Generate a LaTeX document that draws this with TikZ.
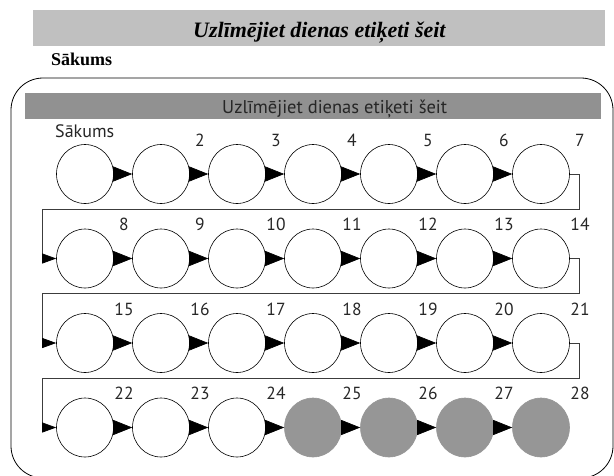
\documentclass[tikz,border=0pt]{standalone}
\usepackage{fontspec}
\setmainfont{Liberation Serif}
\newfontfamily\lblfont{PT Sans}
\usetikzlibrary{arrows.meta,shapes.geometric}
\definecolor{barlight}{RGB}{192,192,192}
\definecolor{bardark}{RGB}{145,145,145}
\definecolor{dotgray}{RGB}{150,150,150}
\definecolor{linegray}{RGB}{60,60,60}
\begin{document}
\begin{tikzpicture}[x=1pt,y=-1pt,
  daycircle/.style={ellipse, draw=black, line width=0.6pt, minimum width=57pt, minimum height=59pt, inner sep=0pt, fill=white},
  doneday/.style={daycircle, draw=dotgray, fill=dotgray},
  stepper/.style={-{Triangle[length=19pt,width=15pt]}, black, line width=0.6pt},
  rowlink/.style={draw=linegray, line width=0.7pt, -{Triangle[length=14pt,width=10pt,black]}},
  daynum/.style={font=\lblfont\fontsize{17.5}{17.5}\selectfont, text=black!85, inner sep=0pt, anchor=base},
  bar/.style={inner sep=0pt, anchor=north west}
]
\useasboundingbox (0,0) rectangle (614,475);
\clip (0,0) rectangle (614,475);
% top header
\node[bar, fill=barlight, minimum width=572pt, minimum height=36pt] (topbar) at (33,10) {};
\node[font=\bfseries\itshape\fontsize{22}{22}\selectfont, anchor=base west, inner sep=0pt] (title) at (193,37.5) {Uzlīmējiet dienas etiķeti šeit};
\node[font=\bfseries\fontsize{18}{18}\selectfont, anchor=base west, inner sep=0pt] (start) at (51,65) {Sākums};
% frame
\draw[black, line width=0.8pt, rounded corners=32pt] (11,78) rectangle (613,478);
\node[bar, fill=bardark, minimum width=576pt, minimum height=25.6pt] (innerbar) at (25,92.7) {};
\node[font=\lblfont\fontsize{18.5}{18.5}\selectfont, text=black!85, anchor=base west, inner sep=0pt] (innertitle) at (222,113.3) {Uzlīmējiet dienas etiķeti šeit};
\node[font=\lblfont\fontsize{18}{18}\selectfont, text=black!85, anchor=base west, inner sep=0pt] (innerstart) at (55,137) {Sākums};
% day circles
\foreach \k in {1,...,28} {
  \pgfmathtruncatemacro\r{(\k-1)/7}
  \pgfmathtruncatemacro\c{mod(\k-1,7)}
  \pgfmathsetmacro\cx{85+76*\c}
  \pgfmathsetmacro\cy{174+84.5*\r}
  \ifnum\k>24
    \node[doneday] (n\k) at (\cx,\cy) {};
  \else
    \node[daycircle] (n\k) at (\cx,\cy) {};
  \fi
}
% numbers
\foreach \k in {2,...,28} {
  \node[daynum] (l\k) at ([shift={(39,-28)}]n\k.center) {\k};
}
% arrows within rows
\foreach \k in {1,...,27} {
  \pgfmathtruncatemacro\m{mod(\k,7)}
  \pgfmathtruncatemacro\nx{\k+1}
  \ifnum\m>0
    \draw[stepper] (n\k.east) -- (n\nx.west);
  \fi
}
% row links
\foreach \a/\b/\y in {7/8/209, 14/15/293.5, 21/22/378} {
  \coordinate (rr\a) at (579,\y);
  \coordinate (rl\a) at (42,\y);
  \draw[rowlink] (n\a.east) -| (rr\a) -- (rl\a) |- (n\b.west);
}
\end{tikzpicture}
\end{document}
